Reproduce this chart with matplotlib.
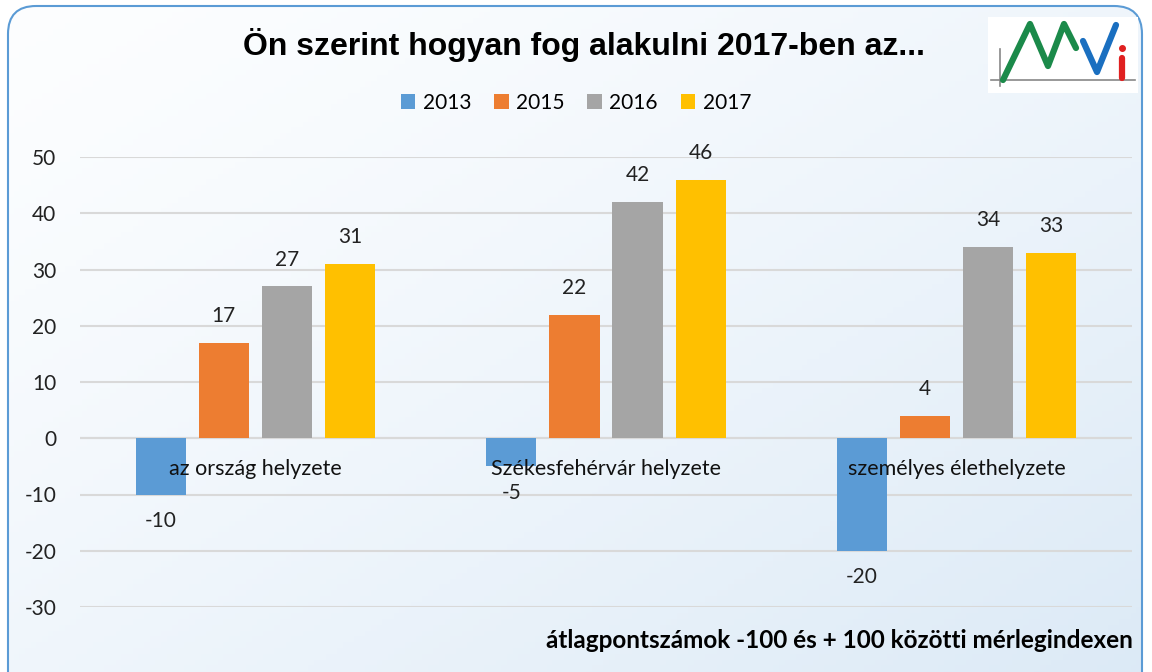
import numpy as np
import matplotlib
matplotlib.use('Agg')
import matplotlib.pyplot as plt
from matplotlib.patches import FancyBboxPatch, Rectangle

categories = ['az ország helyzete', 'Székesfehérvár helyzete', 'személyes élethelyzete']
years = ['2013', '2015', '2016', '2017']
v2013 = [-10, -5, -20]
v2015 = [17, 22, 4]
v2016 = [27, 42, 34]
v2017 = [31, 46, 33]
yticks = [-30, -20, -10, 0, 10, 20, 30, 40, 50]

colors = ['#5b9bd5', '#ed7d31', '#a5a5a5', '#ffc000']
series = [v2013, v2015, v2016, v2017]

fig = plt.figure(figsize=(11.52, 6.72), dpi=100)

# background panel with gradient and rounded border
bg = fig.add_axes([0, 0, 1, 1])
bg.set_xlim(0, 1152)
bg.set_ylim(672, 0)
bg.axis('off')
gx, gy = np.meshgrid(np.linspace(0, 1, 200), np.linspace(0, 1, 120))
t = np.clip(0.5 * gx + 0.5 * gy, 0, 1) ** 1.3
c0 = np.array([0.99, 0.995, 1.0])
c1 = np.array([0.86, 0.915, 0.965])
img = c0[None, None, :] * (1 - t[..., None]) + c1[None, None, :] * t[..., None]
im = bg.imshow(img, extent=[8, 1142, 700, 6], aspect='auto', zorder=0)
panel = FancyBboxPatch((8, 6), 1134, 720, boxstyle='round,pad=0,rounding_size=28',
                       facecolor='none', edgecolor='#5b9bd5', lw=1.5, zorder=2)
bg.add_patch(panel)
im.set_clip_path(panel)

# logo
bg.add_patch(Rectangle((988, 17), 150, 76, facecolor='white', edgecolor='none', zorder=3))
bg.plot([991, 1135], [80, 80], color='#888888', lw=1.2, zorder=4)
bg.plot([1000, 1000], [49, 86], color='#888888', lw=1.2, zorder=4)
bg.plot([1003, 1030, 1048, 1064, 1076], [80, 24, 66, 24, 48], color='#1b8a4a', lw=4.5,
        solid_capstyle='round', solid_joinstyle='round', zorder=5)
bg.plot([1083, 1097, 1116], [41, 72, 25], color='#1a6fc0', lw=4.5,
        solid_capstyle='round', solid_joinstyle='round', zorder=5)
bg.plot([1122, 1122], [58, 78], color='#e02020', lw=4.5, solid_capstyle='round', zorder=5)
bg.plot([1122], [48], 'o', color='#e02020', ms=4, zorder=5)

# chart
ax = fig.add_axes([80 / 1152, 1 - 607 / 672, 1052 / 1152, 450 / 672])
ax.patch.set_alpha(0)
x = np.arange(len(categories))
w = 0.143
step = 0.18
for i, (yr, vals, col) in enumerate(zip(years, series, colors)):
    pos = x + (i - 1.5) * step
    bars = ax.bar(pos, vals, width=w, color=col, label=yr, zorder=3)
    for p, v in zip(pos, vals):
        off = 12 if v >= 0 else -12
        ax.annotate(str(v), (p, v), xytext=(0, off), textcoords='offset points',
                    ha='center', va='bottom' if v >= 0 else 'top', fontsize=15,
                    family='Lato', color='#222222')

ax.set_xlim(-0.5, 2.5)
ax.set_ylim(-30, 50)
ax.set_yticks(yticks)
ax.set_yticklabels([str(v) for v in yticks], family='Lato', fontsize=15, color='#222222')
ax.tick_params(axis='y', length=0, pad=17)
ax.set_xticks([])
ax.grid(axis='y', color='#d9d9d9', lw=1.5, zorder=0)
for s in ax.spines.values():
    s.set_visible(False)
ax.axhline(0, color='#d9d9d9', lw=1.5, zorder=1)

for xi, cat in zip(x, categories):
    ax.text(xi, -5.4, cat, ha='center', va='center', fontsize=15.5, family='Lato',
            color='#111111', zorder=4)

leg = fig.legend(loc='center', bbox_to_anchor=(0.5, 1 - 103 / 672), ncol=4, frameon=False,
                 prop={'family': 'Lato', 'size': 15}, handlelength=0.7, handleheight=0.7,
                 handletextpad=0.35, columnspacing=1.1)

fig.text(584 / 1152, 1 - 45 / 672, 'Ön szerint hogyan fog alakulni 2017-ben az...',
         ha='center', va='center', fontsize=23, fontweight='bold', family='Liberation Sans')
fig.text(1133 / 1152, 1 - 640 / 672, 'átlagpontszámok -100 és + 100 közötti mérlegindexen',
         ha='right', va='center', fontsize=17.5, fontweight='bold', family='Lato')

fig.savefig('out.png', dpi=100)
